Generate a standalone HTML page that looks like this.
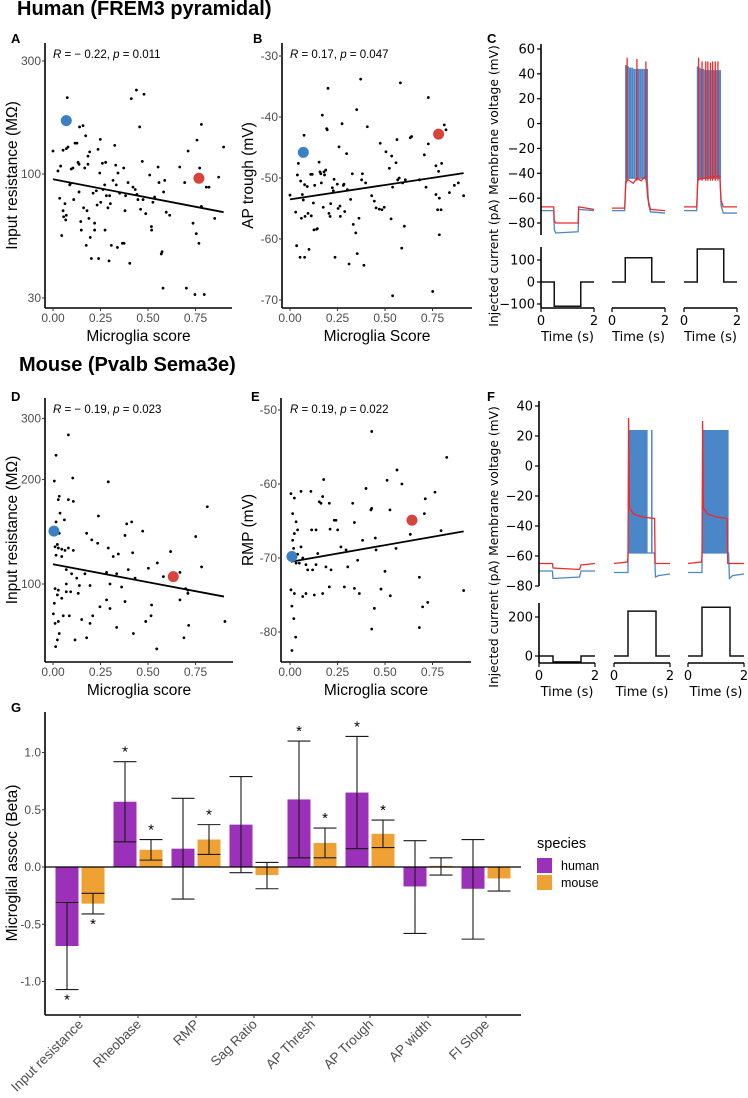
<!DOCTYPE html>
<html><head><meta charset="utf-8"><style>
html,body{margin:0;padding:0;background:#fff;}
svg{display:block;}
.gg{font-family:"Liberation Sans",sans-serif;}
.mp{font-family:"DejaVu Sans","Liberation Sans",sans-serif;}
</style></head><body>
<svg id="fig" width="748" height="1098" viewBox="0 0 748 1098" xmlns="http://www.w3.org/2000/svg"></svg>
<script>
// ---------- DATA ----------
const aX=[0,.026,.035,.04,.046,.053,.056,.063,.067,.07,.053,.07,.079,.075,.088,.091,.096,.105,.109,.116,.126,.132,.137,.137,.14,.146,.149,.158,.161,.167,.172,.175,.179,.184,.184,.189,.193,.196,.202,.211,.219,.219,.228,.232,.237,.24,.246,.249,.251,.26,.263,.272,.274,.277,.281,.289,.295,.298,.302,.307,.316,.325,.33,.333,.339,.342,.351,.365,.372,.374,.379,.382,.395,.404,.412,.421,.433,.439,.442,.447,.456,.461,.47,.474,.479,.488,.509,.518,.519,.526,.535,.553,.558,.57,.574,.579,.582,.588,.596,.614,.667,.693,.702,.711,.737,.747,.754,.758,.768,.772,.781,.781,.807,.821,.851,.872,.898,.796];
const aY=[125,103,79,108,55,70,66,75,64,67,126,128,130,210,90,91,105,106,78,135,135,112,110,84,158,63,58,160,72,106,145,50,70,119,110,65,124,54,44,83,62,58,85,74,127,44,101,140,76,111,86,90,58,112,81,72,43,81,75,50,94,132,109,90,49,101,83,51,106,51,70,81,92,42,208,88,86,226,82,78,158,71,113,78,217,68,99,60,58,76,80,107,92,46,47,33,84,94,69,67,107,92,33,125,62,31,56,139,51,106,162,73,88,88,65,97,130,31];
const aHi=[[.07,168,'blue'],[.768,96,'red']];
const aFit=[[0,95],[.898,69]];

const bX=[0,.039,.044,.030,.035,.053,.056,.060,.065,.07,.074,.077,.077,.079,.091,.095,.100,.109,.112,.117,.123,.126,.130,.140,.144,.153,.158,.162,.165,.170,.175,.179,.182,.188,.193,.196,.2,.205,.211,.214,.223,.228,.232,.237,.249,.253,.258,.263,.265,.274,.281,.284,.288,.298,.302,.311,.319,.328,.333,.346,.351,.354,.363,.372,.377,.381,.389,.398,.407,.43,.444,.453,.47,.484,.496,.505,.475,.523,.532,.535,.54,.558,.563,.567,.575,.581,.588,.593,.602,.607,.633,.64,.681,.707,.716,.728,.728,.768,.768,.777,.782,.786,.786,.795,.798,.812,.821,.839,.865,.886,.914,.751,.54];
const bY=[-52.8,-49.5,-47.6,-55.6,-61.1,-63.0,-50.5,-56.6,-52.7,-53.6,-43.0,-51.1,-63.0,-56.3,-51.4,-55.8,-61.7,-49.4,-56.2,-49.4,-54.1,-58.5,-51.2,-58.4,-58.3,-47.4,-49.0,-49.3,-50.8,-39.7,-54.8,-49.0,-49.5,-48.7,-41.9,-42.1,-35.3,-55.8,-56.3,-54.2,-51.6,-52.1,-50.2,-63.0,-51.0,-55.0,-44.9,-54.6,-56.3,-41.1,-51.2,-51.0,-55.5,-46.0,-51.9,-64.1,-53.5,-49.3,-57.6,-59.0,-38.8,-62.4,-56.6,-33.8,-50.3,-49.3,-64.3,-50.8,-41.6,-52.9,-53.8,-54.9,-55.1,-55.2,-54.8,-45.7,-44.3,-48.4,-56.7,-46.4,-51.5,-47.5,-43.7,-50.3,-50.0,-34.4,-61.5,-50.8,-57.9,-50.3,-43.4,-43.2,-50.3,-46.2,-51.5,-36.8,-44.4,-48.0,-52.7,-55.2,-48.9,-53.3,-59.3,-55.2,-47.6,-41.3,-42.1,-52.4,-51.2,-50.8,-52.9,-68.6,-69.3];
const bHi=[[.07,-45.8,'blue'],[.782,-42.8,'red']];
const bFit=[[0,-53.5],[.914,-49.2]];

const dX=[.016,.081,.007,.104,.291,.028,.033,.081,.107,.037,.016,.06,.033,.023,.011,.028,.046,.063,.081,.107,.177,.204,.235,.239,.291,.317,.344,.379,.388,.414,.419,.472,.549,.619,.751,.782,.812,.016,.046,.07,.098,.125,.168,.282,.335,.396,.432,.502,.668,.581,.011,.028,.07,.093,.139,.195,.3,.361,.698,.002,.011,.028,.054,.086,.007,.023,.046,.033,.023,.014,.116,.151,.177,.195,.209,.247,.282,.3,.335,.379,.423,.488,.519,.516,.546,.668,.689,.714,.07,.133,.905,.71,.71];
const dY=[235,269,198,202,197,175,179,175,173,160,151,153,140,130,128,127,126,125,127,125,140,134,131,157,127,120,122,138,149,151,123,142,115,124,137,112,167,121,120,110,107,104,107,108,107,110,104,111,108,105,97,96,100,95,99,99,100,98,97,82,77,78,81,81,88,93,91,72,69,66,69,79,70,77,81,86,90,85,75,89,72,78,87,81,65,90,70,76,95,94,78,96,94];
const dHi=[[.005,142,'blue'],[.633,105,'red']];
const dFit=[[0,114],[.9,92]];

const eX=[.005,.023,.014,.032,.04,.023,.014,.019,.04,.058,.005,.032,.049,.067,.084,.093,.119,.137,.146,.172,.177,.11,.154,.189,.216,.233,.251,.268,.295,.304,.33,.339,.356,.382,.4,.426,.43,.453,.058,.114,.137,.163,.242,.211,.207,.005,.023,.067,.084,.128,.172,.207,.286,.339,.365,.825,.563,.511,.589,.763,.712,.43,.526,.707,.633,.795,.449,.558,.5,.681,.479,.528,.914,.698,.725,.444,.43,.681,.01,.03,.02,.01];
const eY=[-61.3,-61.9,-64.0,-65.1,-66.2,-66.7,-67.6,-68.7,-69.5,-68.5,-69.8,-70.7,-70.7,-70.0,-70.9,-71.6,-71.6,-70.9,-69.4,-61.7,-59.4,-61.0,-62.4,-71.2,-71.6,-64.9,-66.2,-68.5,-68.9,-71.2,-62.6,-65.2,-70.3,-67.6,-60.6,-63.5,-52.9,-68.9,-61.0,-66.2,-66.2,-62.6,-64.9,-66.1,-62.6,-74.3,-74.8,-75.2,-74.8,-75.0,-74.8,-73.9,-73.9,-74.1,-74.8,-56.4,-58.1,-59.5,-60.0,-61.1,-62.0,-63.3,-63.5,-64.0,-66.8,-66.3,-67.3,-68.7,-71.8,-72.6,-74.2,-75.1,-74.4,-76.6,-76.0,-76.8,-79.6,-79.4,-82.5,-80.7,-78.2,-76.5];
const eHi=[[.01,-69.8,'blue'],[.642,-64.9,'red']];
const eFit=[[.005,-70.5],[.914,-66.4]];

// Traces (time s, mV)
const cBlue=[[[0,-70],[0.48,-70],[0.5,-85],[0.55,-88],[1.4,-87],[1.42,-69],[2,-70]],
 [[0,-70],[0.48,-70],[0.52,-44],[1.33,-44],[1.38,-65],[1.45,-71],[2,-72]],
 [[0,-70],[0.48,-70],[0.52,-44],[1.36,-44],[1.4,-66],[1.48,-72],[2,-72]]];
const cRed=[[[0,-67],[0.48,-67],[0.5,-78],[0.55,-80],[1.4,-80],[1.42,-67],[2,-69]],
 [[0,-68],[0.48,-68],[0.52,-48],[0.6,-45],[0.8,-48],[0.94,-44],[1.1,-46],[1.28,-42],[1.35,-60],[1.45,-69],[2,-70]],
 [[0,-67],[0.48,-67],[0.52,-45],[1.35,-42],[1.4,-62],[1.48,-67],[2,-67]]];
const cBlueSpT=[[],[0.53,0.6,0.68,0.76,0.84,0.92,1.0,1.08,1.16,1.24,1.32],[0.52,0.59,0.66,0.73,0.8,0.87,0.94,1.01,1.08,1.15,1.22,1.29,1.36]];
const cBlueSpV=[[],[47,46,45,45,44,44,44,44,44,44,44],[46,45,44,44,43,43,43,43,43,43,43,43,43]];
const cRedSpT=[[],[0.57,0.94,1.28],[0.55,0.68,0.82,0.9,1.0,1.08,1.18,1.28]];
const cRedSpV=[[],[53,52,50],[53,50,50,50,49,50,50,50]];
const cCurrent=[-110,110,150];

const fBlue=[[[0,-70],[0.48,-70],[0.5,-75],[1.45,-74],[1.5,-70],[2,-70]],
 [[0,-71],[0.5,-71],[0.5,-58],[1.45,-58],[1.48,-74],[1.6,-73],[2,-72]],
 [[0,-71],[0.5,-71],[0.5,-58],[1.45,-58],[1.48,-75],[1.6,-73],[2,-72]]];
const fBlueBlock=[null,[0.5,1.2,-58,24],[0.5,1.45,-58,24]];
const fBlueExtra=[[],[1.35],[]];
const fRed=[[[0,-65],[0.48,-65],[0.5,-68],[1.45,-69],[1.5,-66],[2,-65]],
 [[0,-65],[0.48,-64],[0.5,-60],[0.52,32],[0.55,-28],[0.7,-32],[1.0,-34],[1.45,-35],[1.47,-65],[2,-65]],
 [[0,-65],[0.48,-64],[0.5,-60],[0.52,30],[0.55,-28],[0.7,-32],[1.0,-34],[1.4,-35],[1.42,-65],[2,-65]]];
const fCurrent=[-30,230,250];

// Bar chart G
const gCats=['Input resistance','Rheobase','RMP','Sag Ratio','AP Thresh','AP Trough','AP width','FI Slope'];
const gHuman=[-0.69,0.57,0.16,0.37,0.59,0.65,-0.17,-0.19];
const gHumanLo=[-1.07,0.22,-0.28,-0.05,0.08,0.16,-0.58,-0.63];
const gHumanHi=[-0.31,0.92,0.60,0.79,1.10,1.14,0.23,0.24];
const gMouse=[-0.32,0.15,0.24,-0.07,0.21,0.29,0.01,-0.10];
const gMouseLo=[-0.41,0.06,0.11,-0.19,0.08,0.17,-0.07,-0.21];
const gMouseHi=[-0.23,0.24,0.37,0.04,0.34,0.41,0.08,0.00];
const gHumanSig=[1,1,0,0,1,1,0,0];
const gMouseSig=[1,1,1,0,1,1,0,0];
const gTicks=[1.0,0.5,0.0,-0.5,-1.0];

// ---------- DRAW ----------
const svg=document.getElementById('fig');
const NS='http://www.w3.org/2000/svg';
function mk(tag,attrs,parent){const e=document.createElementNS(NS,tag);for(const k in attrs)e.setAttribute(k,attrs[k]);(parent||svg).appendChild(e);return e;}
function txt(s,x,y,attrs,parent){const t=mk('text',Object.assign({x:x,y:y},attrs),parent);t.textContent=s;return t;}
function grp(cls){return mk('g',{class:cls});}

let t;
t=txt('Human (FREM3 pyramidal)',17,15,{'font-size':'20','font-weight':'bold',class:'gg'});


t=txt('Mouse (Pvalb Sema3e)',19,371,{'font-size':'20','font-weight':'bold',class:'gg'});


[['A',11,43],['B',253,43],['C',487,43],['D',11,401],['E',251,401],['F',487,401],['G',11,712]].forEach(p=>{
  const l=txt(p[0],p[1],p[2],{'font-size':'13','font-weight':'bold',class:'gg'});
  
  
});

function scatterPanel(o){
  const g=grp('gg');
  
  
  const X=v=>o.x0+v*190;
  const Y=o.ys;
  for(let i=0;i<o.xs.length;i++){
    const c=mk('circle',{cx:X(o.xs[i]),cy:Y(o.yv[i]),r:1.4,fill:'#000'},g);
    
    
  }
  const fl=mk('line',{x1:X(o.fit[0][0]),y1:Y(o.fit[0][1]),x2:X(o.fit[1][0]),y2:Y(o.fit[1][1]),stroke:'#000','stroke-width':1.8},g);
  
  
  o.hi.forEach(h=>{
    const c=mk('circle',{cx:X(h[0]),cy:Y(h[1]),r:5.5,fill:h[2]=='blue'?'#3a80c6':'#d8433b'},g);
    
    
  });
  const ya=mk('line',{x1:o.ax,y1:o.top,x2:o.ax,y2:o.bot,stroke:'#000','stroke-width':1.6},g);
  
  
  const xa=mk('line',{x1:o.ax,y1:o.bot,x2:o.right,y2:o.bot,stroke:'#000','stroke-width':1.6},g);
  
  
  o.yt.forEach(v=>{
    const yy=Y(v);
    mk('line',{x1:o.ax-3,y1:yy,x2:o.ax,y2:yy,stroke:'#333','stroke-width':1},g);
    const l=txt(String(v),o.ax-4,yy+4,{'font-size':'12',fill:'#4d4d4d','text-anchor':'end'},g);
    
    
  });
  ['0.00','0.25','0.50','0.75'].forEach((s,i)=>{
    const xx=X(i*0.25);
    mk('line',{x1:xx,y1:o.bot,x2:xx,y2:o.bot+3,stroke:'#333','stroke-width':1},g);
    const l=txt(s,xx,o.bot+14,{'font-size':'12',fill:'#4d4d4d','text-anchor':'middle'},g);
    
    
  });
  const xt=txt(o.xtitle,(o.ax+o.right)/2,o.bot+33,{'font-size':'15.5','text-anchor':'middle'},g);
  
  
  const yc=(o.top+o.bot)/2;
  const yt=txt(o.ytitle,o.ytx,yc,{'font-size':'15.5','text-anchor':'middle',transform:'rotate(-90 '+o.ytx+' '+yc+')'},g);
  
  
  const st=mk('text',{x:o.x0,y:o.top+15,'font-size':'11.5'},g);
  st.innerHTML='<tspan font-style="italic">R</tspan> = '+o.r+', <tspan font-style="italic">p</tspan> = '+o.p;
  
  
}
scatterPanel({name:'panel-a-scatter',xs:aX,yv:aY,hi:aHi,fit:aFit,x0:53,ax:45,right:232,top:43,bot:308,
  ys:v=>174-(Math.log10(v)-2)*237,yt:[300,100,30],xtitle:'Microglia score',ytitle:'Input resistance (MΩ)',ytx:17,r:'− 0.22',p:'0.011'});
scatterPanel({name:'panel-b-scatter',xs:bX,yv:bY,hi:bHi,fit:bFit,x0:290,ax:282,right:472,top:43,bot:308,
  ys:v=>56+(-30-v)*6.1,yt:[-30,-40,-50,-60,-70],xtitle:'Microglia Score',ytitle:'AP trough (mV)',ytx:253,r:'0.17',p:'0.047'});
scatterPanel({name:'panel-d-scatter',xs:dX,yv:dY,hi:dHi,fit:dFit,x0:53,ax:45,right:233,top:398,bot:662,
  ys:v=>584-(Math.log10(v)-2)*347,yt:[300,200,100],xtitle:'Microglia score',ytitle:'Input resistance (MΩ)',ytx:17,r:'− 0.19',p:'0.023'});
scatterPanel({name:'panel-e-scatter',xs:eX,yv:eY,hi:eHi,fit:eFit,x0:290,ax:281,right:471,top:398,bot:662,
  ys:v=>410+(-50-v)*7.4,yt:[-50,-60,-70,-80],xtitle:'Microglia score',ytitle:'RMP (mV)',ytx:253,r:'0.19',p:'0.022'});

function tracePanel(o){
  const g=grp('mp');
  
  
  const V=v=>o.v0y+(o.v0-v)*o.vs;
  const I=v=>o.i0y-v*o.is;
  o.subs.forEach((sx,k)=>{
    const T=tt=>sx+tt*o.tw/2;
    if(o.block&&o.block[k]){
      const b=o.block[k];
      const r=mk('rect',{x:T(b[0]),y:V(b[3]),width:T(b[1])-T(b[0]),height:V(b[2])-V(b[3]),fill:'#4a86c8'},g);
      
      
    }
    if(o.bExtra) o.bExtra[k].forEach(tt=>{mk('line',{x1:T(tt),y1:V(-58),x2:T(tt),y2:V(24),stroke:'#4a86c8','stroke-width':1.5},g);});
    const pb=mk('polyline',{points:o.blue[k].map(p=>T(p[0])+','+V(p[1])).join(' '),fill:'none',stroke:'#4a86c8','stroke-width':1.3},g);
    
    
    if(o.bSpT) o.bSpT[k].forEach((tt,j)=>{mk('line',{x1:T(tt),y1:V(-44),x2:T(tt),y2:V(o.bSpV[k][j]),stroke:'#4a86c8','stroke-width':2},g);});
    const pr=mk('polyline',{points:o.red[k].map(p=>T(p[0])+','+V(p[1])).join(' '),fill:'none',stroke:'#ee2a2a','stroke-width':1.3},g);
    
    
    if(o.rSpT) o.rSpT[k].forEach((tt,j)=>{mk('line',{x1:T(tt),y1:V(-46),x2:T(tt),y2:V(o.rSpV[k][j]),stroke:'#ee2a2a','stroke-width':1.3},g);});
    const cur=o.cur[k];
    const pc=mk('polyline',{points:[[0,0],[0.5,0],[0.5,cur],[1.5,cur],[1.5,0],[2,0]].map(p=>T(p[0])+','+I(p[1])).join(' '),fill:'none',stroke:'#111','stroke-width':1.5},g);
    
    
    const xa=mk('line',{x1:sx,y1:o.xb,x2:sx+o.tw,y2:o.xb,stroke:'#000','stroke-width':1.6},g);
    
    
    [0,2].forEach(tt=>{
      mk('line',{x1:T(tt),y1:o.xb,x2:T(tt),y2:o.xb+4,stroke:'#000','stroke-width':1.2},g);
      const l=txt(String(tt),T(tt),o.xb+17,{'font-size':'13','text-anchor':'middle'},g);
      
      
    });
    const tl=txt('Time (s)',sx+o.tw/2,o.xb+33,{'font-size':'13','text-anchor':'middle'},g);
    
    
  });
  const va=mk('line',{x1:o.subs[0],y1:o.vTop,x2:o.subs[0],y2:o.vBot,stroke:'#000','stroke-width':1.6},g);
  
  
  o.vt.forEach(v=>{
    mk('line',{x1:o.subs[0]-4,y1:V(v),x2:o.subs[0],y2:V(v),stroke:'#000','stroke-width':1.2},g);
    const l=txt(String(v).replace('-','−'),o.subs[0]-6,V(v)+4.5,{'font-size':'13','text-anchor':'end'},g);
    
    
  });
  const ia=mk('line',{x1:o.subs[0],y1:o.iTop,x2:o.subs[0],y2:o.xb,stroke:'#000','stroke-width':1.6},g);
  
  
  o.it.forEach(v=>{
    mk('line',{x1:o.subs[0]-4,y1:I(v),x2:o.subs[0],y2:I(v),stroke:'#000','stroke-width':1.2},g);
    const l=txt(String(v).replace('-','−'),o.subs[0]-6,I(v)+4.5,{'font-size':'13','text-anchor':'end'},g);
    
    
  });
  const vl=txt('Membrane voltage (mV)',o.lx,o.vly,{'font-size':'12.3','text-anchor':'middle',transform:'rotate(-90 '+o.lx+' '+o.vly+')'},g);
  
  
  const il=txt('Injected current (pA)',o.lx,o.ily,{'font-size':'12.3','text-anchor':'middle',transform:'rotate(-90 '+o.lx+' '+o.ily+')'},g);
  
  
}
tracePanel({name:'panel-c-traces',subs:[541,612,684],tw:53,v0:60,v0y:49,vs:1.243,vTop:44,vBot:235,vt:[60,40,20,0,-20,-40,-60,-80],
  i0y:282,is:0.22,iTop:247,xb:308,it:[100,0,-100],cur:cCurrent,blue:cBlue,red:cRed,bSpT:cBlueSpT,bSpV:cBlueSpV,rSpT:cRedSpT,rSpV:cRedSpV,
  lx:498,vly:120,ily:263});
tracePanel({name:'panel-f-traces',subs:[539,614,688],tw:56,v0:40,v0y:406,vs:1.5,vTop:401,vBot:586,vt:[40,20,0,-20,-40,-60,-80],
  i0y:656,is:0.195,iTop:603,xb:663,it:[200,0],cur:fCurrent,blue:fBlue,red:fRed,block:fBlueBlock,bExtra:fBlueExtra,
  lx:498,vly:481,ily:624});

(function(){
  const g=grp('gg');
  
  
  const Y=b=>867-b*114.5;
  const CX=i=>80+58*i;
  const bw=23;
  function bar(i,v,lo,hi,sig,off,col,sp){
    const cx=CX(i)+off;
    const y0=Y(0),y1=Y(v);
    const r=mk('rect',{x:cx-bw/2,y:Math.min(y0,y1),width:bw,height:Math.abs(y1-y0),fill:col},g);
    
    
    const e=mk('path',{d:'M'+(cx-bw/2)+','+Y(hi)+'H'+(cx+bw/2)+'M'+cx+','+Y(hi)+'V'+Y(lo)+'M'+(cx-bw/2)+','+Y(lo)+'H'+(cx+bw/2),stroke:'#1a1a1a','stroke-width':1.1,fill:'none'},g);
    
    
    if(sig){
      const sy=v<0?Y(lo)+15:Y(hi)-5;
      const s=txt('*',cx,sy,{'font-size':'15','text-anchor':'middle'},g);
      
      
    }
  }
  for(let i=0;i<gCats.length;i++){
    bar(i,gHuman[i],gHumanLo[i],gHumanHi[i],gHumanSig[i],-13,'#9a31b8','human');
    bar(i,gMouse[i],gMouseLo[i],gMouseHi[i],gMouseSig[i],13,'#efa134','mouse');
  }
  const z=mk('line',{x1:45,y1:Y(0),x2:521,y2:Y(0),stroke:'#000','stroke-width':1.2},g);
  
  
  const ya=mk('line',{x1:45,y1:712,x2:45,y2:1015,stroke:'#000','stroke-width':1.6},g);
  
  
  const xa=mk('line',{x1:45,y1:1015,x2:521,y2:1015,stroke:'#000','stroke-width':1.6},g);
  
  
  gTicks.forEach(v=>{
    mk('line',{x1:42,y1:Y(v),x2:45,y2:Y(v),stroke:'#333'},g);
    const l=txt(v.toFixed(1),41,Y(v)+4,{'font-size':'12',fill:'#4d4d4d','text-anchor':'end'},g);
    
    
  });
  gCats.forEach((c,i)=>{
    const x=CX(i);
    mk('line',{x1:x,y1:1015,x2:x,y2:1018,stroke:'#333'},g);
    const l=txt(c,x+4,1025,{'font-size':'13.5',fill:'#4d4d4d','text-anchor':'end',transform:'rotate(-45 '+(x+4)+' 1025)'},g);
    
    
  });
  const yt=txt('Microglial assoc (Beta)',17,863,{'font-size':'15.5','text-anchor':'middle',transform:'rotate(-90 17 863)'},g);
  
  
  const lt=txt('species',537,848,{'font-size':'14.5'},g);
  
  
  [['human','#9a31b8',858],['mouse','#efa134',875]].forEach(p=>{
    const r=mk('rect',{x:537,y:p[2],width:15,height:15,fill:p[1]},g);
    
    
    const l=txt(p[0],561,p[2]+12,{'font-size':'12.5'},g);
    
    
  });
})();
</script>
</body></html>
